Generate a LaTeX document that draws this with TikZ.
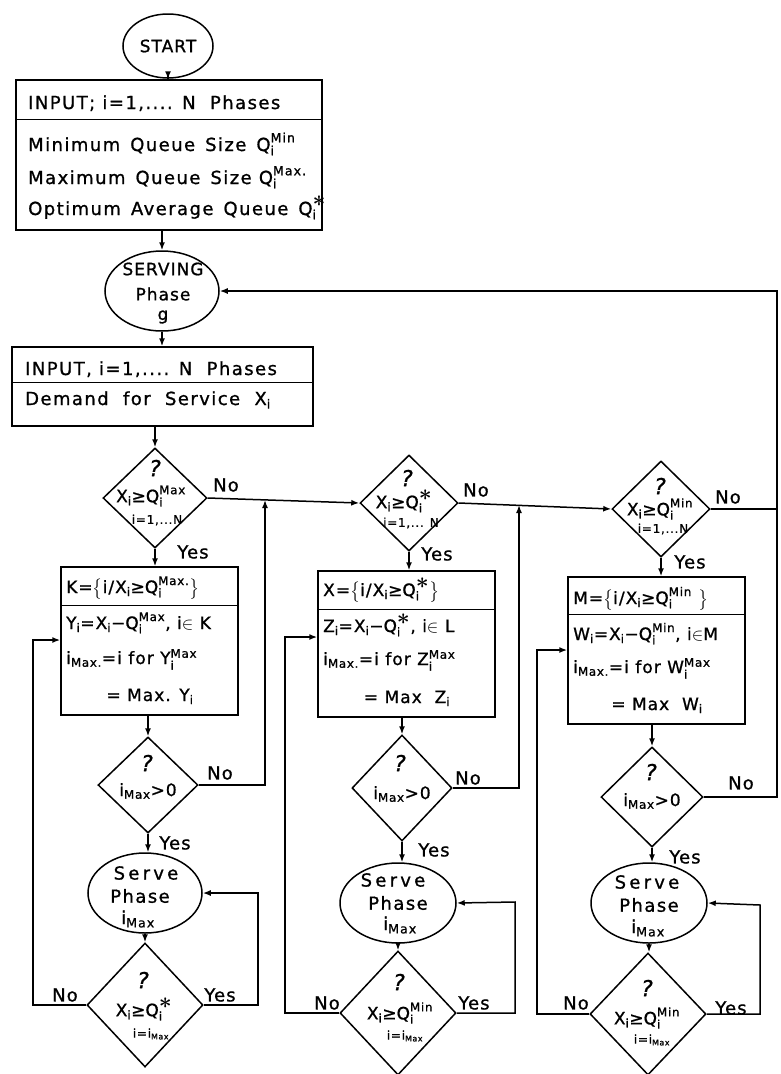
\documentclass[tikz,border=0pt]{standalone}
\usepackage{amsmath}
\usepackage{graphicx}
\usepackage{fontspec}
\setmainfont{DejaVu Sans}[LetterSpace=6,FakeBold=1]
\usetikzlibrary{shapes.geometric,arrows.meta}
\newcommand{\Qm}[1]{$\text{Q}_{\text{i}}^{\text{#1}}$}
\newcommand{\Qs}{$\text{Q}_{\text{i}}^{\scalebox{1.3}{$\boldsymbol{\ast}$}}$}
\newcommand{\Xm}{X$_{\text{i}}$}
\newcommand{\iMx}{i$_{\text{Max}}$}
\newcommand{\iMd}{i$_{\text{Max.}}$}
\newcommand{\gap}{\hspace{10pt}}
\begin{document}
\begin{tikzpicture}[x=1pt,y=-1pt,
  ln/.style={line width=1.5pt},
  arr/.style={ln,-{Latex[length=8pt,width=6pt]}},
  ell/.style={ellipse,draw,ln,inner sep=0pt},
  box/.style={rectangle,draw,ln,inner sep=0pt},
  dia/.style={diamond,draw,ln,inner sep=0pt},
  txt/.style={inner sep=0pt,font=\fontsize{17}{20}\selectfont},
  big/.style={inner sep=0pt,font=\fontsize{18}{21}\selectfont\addfontfeature{LetterSpace=8}},
  ltxt/.style={txt,anchor=base west},
  lbig/.style={big,anchor=base west},
  rng/.style={inner sep=0pt,font=\fontsize{12}{14}\selectfont},
  qm/.style={inner sep=0pt,font=\fontsize{22}{24}\selectfont\itshape},
  lbl/.style={inner sep=0pt,font=\fontsize{18}{20}\selectfont}
]
\useasboundingbox (0,0) rectangle (780,1074);

% START
\node[ell,minimum width=90,minimum height=64] (start) at (168,46) {};
\node[txt] (startT) at (start) {START};

% input 1
\node[box,minimum width=306,minimum height=150] (in1) at (169,155) {};
\draw[ln] ([yshift=-40pt]in1.north west) -- ([yshift=-40pt]in1.north east);
\node[lbig] (in1a) at (28,109) {INPUT; i=1,.... N\ \ Phases};
\node[lbig] (in1b) at (28,151) {Minimum\gap Queue\gap Size\gap\Qm{Min}};
\node[lbig] (in1c) at (28,184) {Maximum\gap Queue\gap Size \Qm{Max.}};
\node[lbig] (in1d) at (28,215) {Optimum\gap Average\gap Queue\gap\Qs};

% SERVING
\node[ell,minimum width=114,minimum height=80] (serving) at (162,291) {};
\node[txt] (servA) at (163,269) {SERVING};
\node[txt] (servB) at (163,294) {Phase};
\node[txt] (servC) at (163,317) {g};

% input 2
\node[box,minimum width=301,minimum height=79] (in2) at (162.5,386.5) {};
\draw[ln] ([yshift=-36pt]in2.north west) -- ([yshift=-36pt]in2.north east);
\node[lbig] (in2a) at (25,375) {INPUT, i=1,.... N\ \ Phases};
\node[lbig] (in2b) at (25,405) {Demand\ \ for\ \ Service\ \ \Xm};

% ---------------- column 1
\node[dia,minimum width=104,minimum height=100] (d1) at (155,498) {};
\node[qm] (d1q) at (155,468) {?};
\node[txt] (d1t) at (151,496) {\Xm≥\Qm{Max}};
\node[rng] (d1r) at (157,520) {i=1,...N};
\node[lbl] (d1no) at (226,485) {No};
\node[lbl] (d1yes) at (193,552) {Yes};

\node[box,minimum width=177,minimum height=148] (kbox) at (149.5,641) {};
\draw[ln] ([yshift=-39pt]kbox.north west) -- ([yshift=-39pt]kbox.north east);
\node[ltxt] (k1) at (66,593) {K=$\bigl\{$i/\Xm≥\Qm{Max.}$\bigr\}$};
\node[ltxt] (k2) at (66,629) {Y$_{\text{i}}$=\Xm−\Qm{Max}, i$\in$ K};
\node[ltxt] (k3) at (66,664) {\iMd=i for Y$_{\text{i}}^{\text{Max}}$};
\node[txt,anchor=base] (k4) at (150,701) {= Max. Y$_{\text{i}}$};

\node[dia,minimum width=100,minimum height=96] (dm1) at (148,785) {};
\node[qm] (dm1q) at (147,763) {?};
\node[txt] (dm1t) at (148,791) {\iMx>0};
\node[lbl] (dm1no) at (220,773) {No};
\node[lbl] (dm1yes) at (175,843) {Yes};

\node[ell,minimum width=114,minimum height=80] (s1) at (145,893) {};
\node[big] (s1a) at (146,873) {\addfontfeature{LetterSpace=18}Serve};
\node[big] (s1b) at (140,896) {Phase};
\node[big] (s1c) at (138,919) {\iMx};

\node[dia,minimum width=116,minimum height=124] (db1) at (145,1005) {};
\node[qm] (db1q) at (143,980) {?};
\node[txt] (db1t) at (144,1009) {\Xm≥\Qs};
\node[rng] (db1r) at (151,1034) {i=\iMx};
\node[lbl] (db1no) at (65,995) {No};
\node[lbl] (db1yes) at (220,995) {Yes};

% ---------------- column 2
\node[dia,minimum width=98,minimum height=96] (d2) at (409,503) {};
\node[qm] (d2q) at (407,478) {?};
\node[txt] (d2t) at (404,501) {\Xm≥\Qs};
\node[rng] (d2r) at (411,523) {i=1,... N};
\node[lbl] (d2no) at (476,490) {No};
\node[lbl] (d2yes) at (437,554) {Yes};

\node[box,minimum width=177,minimum height=146] (xbox) at (406.5,644) {};
\draw[ln] ([yshift=-39pt]xbox.north west) -- ([yshift=-39pt]xbox.north east);
\node[ltxt] (x1) at (323,596) {X=$\bigl\{$i/\Xm≥\Qs$\bigr\}$};
\node[ltxt] (x2) at (323,632) {Z$_{\text{i}}$=\Xm−\Qs, i$\in$ L};
\node[ltxt] (x3) at (323,665) {\iMd=i for Z$_{\text{i}}^{\text{Max}}$};
\node[txt,anchor=base] (x4) at (407,703) {= Max\ \ Z$_{\text{i}}$};

\node[dia,minimum width=100,minimum height=106] (dm2) at (402,788) {};
\node[qm] (dm2q) at (400,763) {?};
\node[txt] (dm2t) at (402,794) {\iMx>0};
\node[lbl] (dm2no) at (468,778) {No};
\node[lbl] (dm2yes) at (434,850) {Yes};

\node[ell,minimum width=116,minimum height=80] (s2) at (398,903) {};
\node[big] (s2a) at (393,880) {\addfontfeature{LetterSpace=18}Serve};
\node[big] (s2b) at (398,903) {Phase};
\node[big] (s2c) at (400,925) {\iMx};

\node[dia,minimum width=116,minimum height=124] (db2) at (398,1013) {};
\node[qm] (db2q) at (399,982) {?};
\node[txt] (db2t) at (400,1013) {\Xm≥\Qm{Min}};
\node[rng] (db2r) at (405,1036) {i=\iMx};
\node[lbl] (db2no) at (327,1003) {No};
\node[lbl] (db2yes) at (474,1003) {Yes};

% ---------------- column 3
\node[dia,minimum width=98,minimum height=96] (d3) at (661,509) {};
\node[qm] (d3q) at (660,486) {?};
\node[txt] (d3t) at (660,509) {\Xm≥\Qm{Min}};
\node[rng] (d3r) at (663,529) {i=1,...N};
\node[lbl] (d3no) at (728,497) {No};
\node[lbl] (d3yes) at (690,562) {Yes};

\node[box,minimum width=177,minimum height=147] (mbox) at (656.5,650.5) {};
\draw[ln] ([yshift=-38pt]mbox.north west) -- ([yshift=-38pt]mbox.north east);
\node[ltxt] (m1) at (573,604) {M=$\bigl\{$i/\Xm≥\Qm{Min}\ $\bigr\}$};
\node[ltxt] (m2) at (573,640) {W$_{\text{i}}$=\Xm−\Qm{Min}, i$\in$M};
\node[ltxt] (m3) at (573,673) {\iMd=i for W$_{\text{i}}^{\text{Max}}$};
\node[txt,anchor=base] (m4) at (657,710) {= Max\ \ W$_{\text{i}}$};

\node[dia,minimum width=102,minimum height=100] (dm3) at (652,797) {};
\node[qm] (dm3q) at (651,772) {?};
\node[txt] (dm3t) at (652,801) {\iMx>0};
\node[lbl] (dm3no) at (741,783) {No};
\node[lbl] (dm3yes) at (685,857) {Yes};

\node[ell,minimum width=116,minimum height=80] (s3) at (649,903) {};
\node[big] (s3a) at (647,882) {\addfontfeature{LetterSpace=18}Serve};
\node[big] (s3b) at (649,905) {Phase};
\node[big] (s3c) at (648,928) {\iMx};

\node[dia,minimum width=116,minimum height=122] (db3) at (648,1014) {};
\node[qm] (db3q) at (647,988) {?};
\node[txt] (db3t) at (647,1018) {\Xm≥\Qm{Min}};
\node[rng] (db3r) at (652,1040) {i=\iMx};
\node[lbl] (db3no) at (576,1003) {No};
\node[lbl] (db3yes) at (731,1008) {Yes};

% helper coordinates
\coordinate (l1) at (33,640);
\coordinate (y1) at (258,893);
\coordinate (j1) at (265,500);
\coordinate (l2) at (285,637);
\coordinate (y2) at (515,902);
\coordinate (j2) at (519,505);
\coordinate (l3) at (537,650);
\coordinate (y3) at (760,905);
\coordinate (r) at (777,291);

% connectors
\draw[arr] (start.south) -- (start.south |- in1.north);
\draw[arr] (serving.north |- in1.south) -- (serving.north);
\draw[arr] (serving.south) -- (serving.south |- in2.north);
\draw[arr] (d1.north |- in2.south) -- (d1.north);

\draw[arr] (d1.south) -- (d1.south |- kbox.north);
\draw[arr] (kbox.south -| dm1.north) -- (dm1.north);
\draw[arr] (dm1.south) -- (dm1.south |- s1.north);
\draw[arr] (s1.south) -- (db1.north);
\draw[arr] (db1.west) -| (l1) -- (l1 -| kbox.west);
\draw[arr] (db1.east) -| (y1) -- (s1.east);
\draw[arr] (dm1.east) -| (j1);
\draw[arr] (d1.east) -- (d2.west);

\draw[arr] (d2.south) -- (d2.south |- xbox.north);
\draw[arr] (xbox.south -| dm2.north) -- (dm2.north);
\draw[arr] (dm2.south) -- (dm2.south |- s2.north);
\draw[arr] (s2.south) -- (db2.north);
\draw[arr] (db2.west) -| (l2) -- (l2 -| xbox.west);
\draw[arr] (db2.east) -| (y2) -- (s2.east);
\draw[arr] (dm2.east) -| (j2);
\draw[arr] (d2.east) -- (d3.west);

\draw[arr] (d3.south) -- (d3.south |- mbox.north);
\draw[arr] (mbox.south -| dm3.north) -- (dm3.north);
\draw[arr] (dm3.south) -- (dm3.south |- s3.north);
\draw[arr] (s3.south) -- (s3.south |- db3.north);
\draw[arr] (db3.west) -| (l3) -- (l3 -| mbox.west);
\draw[arr] (db3.east) -| (y3) -- (s3.east);
\draw[arr] (dm3.east) -| (r) -- (serving.east);
\draw[ln] (d3.east) -- (d3.east -| r);
\end{tikzpicture}
\end{document}
